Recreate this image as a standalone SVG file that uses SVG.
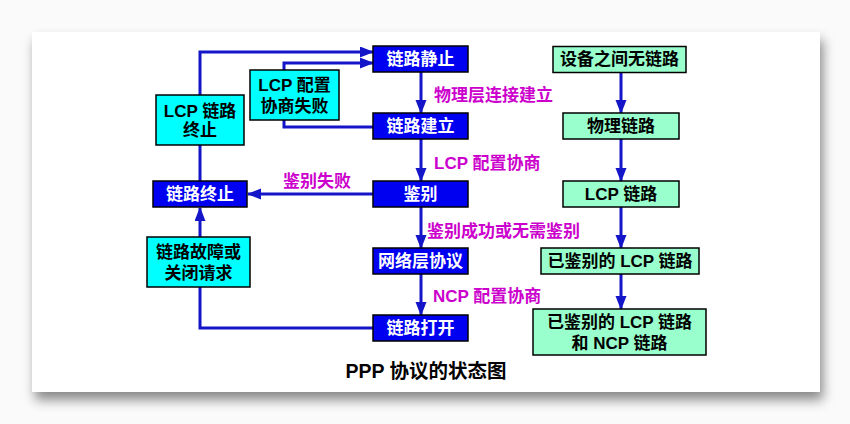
<svg xmlns="http://www.w3.org/2000/svg" width="850" height="424" viewBox="0 0 850 424">
<defs>
<filter id="sh" x="-10%" y="-10%" width="120%" height="130%">
<feDropShadow dx="3" dy="8" stdDeviation="6" flood-color="#000" flood-opacity="0.45"/>
</filter>
<marker id="ah" markerUnits="userSpaceOnUse" markerWidth="14" markerHeight="12" refX="13" refY="5.5" orient="auto">
<path d="M0,0 L14,5.5 L0,11 z" fill="#1414c8"/>
</marker>
<style>
.t{font-family:"Liberation Sans","Noto Sans CJK SC",sans-serif;font-weight:bold;text-anchor:middle;dominant-baseline:central}
.w{fill:#ffffff;font-size:17px}
.k{fill:#000000;font-size:17px}
.m{fill:#cc00cc;font-size:17px;text-anchor:start}
.blue{fill:#0000f0;stroke:#000;stroke-width:1.5}
.cyan{fill:#00ffff;stroke:#000;stroke-width:1.5}
.green{fill:#99ffcc;stroke:#000;stroke-width:1.5}
.c{fill:none;stroke:#1414c8;stroke-width:3}
</style>
</defs>
<rect x="0" y="0" width="850" height="424" fill="#fafafa"/>
<rect x="32" y="32" width="788" height="360" fill="#ffffff" filter="url(#sh)"/>

<g id="connectors">
<path class="c" d="M200,181 V52 H373" marker-end="url(#ah)"/>
<path class="c" d="M373,127 H284 V63 H373" marker-end="url(#ah)"/>
<path class="c" d="M421,72 V113" marker-end="url(#ah)"/>
<path class="c" d="M421,139 V181" marker-end="url(#ah)"/>
<path class="c" d="M421,207 V248" marker-end="url(#ah)"/>
<path class="c" d="M421,274 V315" marker-end="url(#ah)"/>
<path class="c" d="M373,194 H248" marker-end="url(#ah)"/>
<path class="c" d="M373,328 H200 V287"/>
<path class="c" d="M200,237 V208" marker-end="url(#ah)"/>
<path class="c" d="M621,72 V113" marker-end="url(#ah)"/>
<path class="c" d="M621,139 V181" marker-end="url(#ah)"/>
<path class="c" d="M621,207 V248" marker-end="url(#ah)"/>
<path class="c" d="M621,274 V309" marker-end="url(#ah)"/>
</g>

<g id="labels">
<text class="t m" x="434" y="95">物理层连接建立</text>
<text class="t m" x="434" y="163">LCP 配置协商</text>
<text class="t m" x="427" y="231">鉴别成功或无需鉴别</text>
<text class="t m" x="433" y="296">NCP 配置协商</text>
<text class="t m" x="283" y="181">鉴别失败</text>
</g>

<g id="n-jingzhi"><rect class="blue" x="373" y="46" width="95" height="26"/><text class="t w" x="420.5" y="59">链路静止</text></g>
<g id="n-jianli"><rect class="blue" x="373" y="113" width="95" height="26"/><text class="t w" x="420.5" y="126">链路建立</text></g>
<g id="n-jianbie"><rect class="blue" x="373" y="181" width="95" height="26"/><text class="t w" x="420.5" y="194">鉴别</text></g>
<g id="n-wangluo"><rect class="blue" x="373" y="248" width="95" height="26"/><text class="t w" x="420.5" y="261">网络层协议</text></g>
<g id="n-dakai"><rect class="blue" x="373" y="315" width="95" height="26"/><text class="t w" x="420.5" y="328">链路打开</text></g>
<g id="n-zhongzhi"><rect class="blue" x="153" y="181" width="94" height="26"/><text class="t w" x="200" y="194">链路终止</text></g>

<g id="n-lcpfail"><rect class="cyan" x="250" y="70" width="89" height="50"/><text class="t k" x="294.5" y="85.5">LCP 配置</text><text class="t k" x="294.5" y="106">协商失败</text></g>
<g id="n-lcpterm"><rect class="cyan" x="156" y="95" width="88" height="50"/><text class="t k" x="200" y="111">LCP 链路</text><text class="t k" x="200" y="130">终止</text></g>
<g id="n-fault"><rect class="cyan" x="147" y="237" width="103" height="50"/><text class="t k" x="198.5" y="252">链路故障或</text><text class="t k" x="198.5" y="273">关闭请求</text></g>

<g id="r-none"><rect class="green" x="553" y="46.5" width="133" height="26"/><text class="t k" x="619.5" y="59.5">设备之间无链路</text></g>
<g id="r-phys"><rect class="green" x="563" y="113" width="116" height="26"/><text class="t k" x="621" y="126">物理链路</text></g>
<g id="r-lcp"><rect class="green" x="563" y="181" width="116" height="26"/><text class="t k" x="621" y="194">LCP 链路</text></g>
<g id="r-auth"><rect class="green" x="541" y="248" width="158" height="26"/><text class="t k" x="620" y="261">已鉴别的 LCP 链路</text></g>
<g id="r-ncp"><rect class="green" x="533" y="309" width="173" height="46"/><text class="t k" x="619.5" y="322.5">已鉴别的 LCP 链路</text><text class="t k" x="619.5" y="343">和 NCP 链路</text></g>

<text class="t k" x="426" y="371" style="font-size:19.5px">PPP 协议的状态图</text>
</svg>
